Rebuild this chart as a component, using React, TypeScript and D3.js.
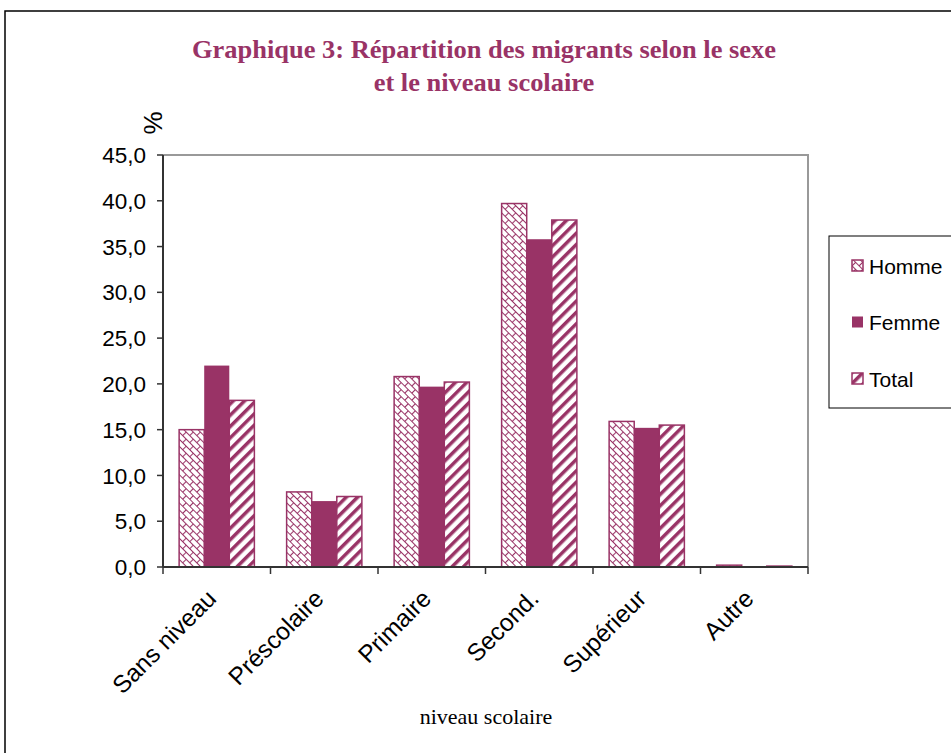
import * as d3 from "d3";
import { useEffect } from "react";

const categories = ["Sans niveau", "Préscolaire", "Primaire", "Second.", "Supérieur", "Autre"];
const seriesNames = ["Homme", "Femme", "Total"];
const homme = [15.0, 8.2, 20.8, 39.7, 15.9, 0.2];
const femme = [22.0, 7.2, 19.7, 35.8, 15.2, 0.1];
const total = [18.2, 7.7, 20.2, 37.9, 15.5, 0.1];
const yTicks = [0, 5, 10, 15, 20, 25, 30, 35, 40, 45];

const PLUM = "#993366";
const SANS = "'Liberation Sans', Arial, sans-serif";
const SERIF = "'Liberation Serif', 'Times New Roman', serif";

const fills = ["url(#pat-homme)", PLUM, "url(#pat-total)"];

export default function App() {
  useEffect(() => {
    document.body.style.margin = "0";
  }, []);

  const width = 951;
  const height = 753;
  const plot = { left: 163, top: 155, right: 808, bottom: 567 };

  const x = d3
    .scaleBand<string>()
    .domain(categories)
    .range([plot.left, plot.right])
    .paddingInner(0.3)
    .paddingOuter(0.15);
  const xs = d3.scaleBand<string>().domain(seriesNames).range([0, x.bandwidth()]);
  const y = d3.scaleLinear().domain([0, 45]).range([plot.bottom, plot.top]);

  const series = [homme, femme, total];
  const step = x.step();

  return (
    <svg width={width} height={height} style={{ display: "block" }}>
      <defs>
        <pattern
          id="pat-homme"
          width={10}
          height={10}
          patternUnits="userSpaceOnUse"
          patternTransform="rotate(45)"
        >
          <rect width={10} height={10} fill="#fff" />
          <path
            d="M0,0.5H10M0,5.5H10M0.5,0.5V5.5M5.5,5.5V10.5"
            stroke={PLUM}
            strokeWidth={1.1}
            fill="none"
          />
        </pattern>
        <pattern
          id="pat-total"
          width={8}
          height={8}
          patternUnits="userSpaceOnUse"
          patternTransform="rotate(45)"
        >
          <rect width={8} height={8} fill="#fff" />
          <rect x={0} y={0} width={3.5} height={8} fill={PLUM} />
        </pattern>
      </defs>

      {/* outer frame */}
      <rect x={5} y={11} width={960} height={760} fill="none" stroke="#000" strokeWidth={1.5} />

      {/* title */}
      <g transform="translate(484,0) scale(1.08,1)">
        <text
          x={0}
          y={58}
          textAnchor="middle"
          fill={PLUM}
          fontFamily={SERIF}
          fontWeight="bold"
          fontSize={24.5}
        >
          <tspan x={0}>Graphique 3: Répartition des migrants selon le sexe</tspan>
          <tspan x={0} dy={33}>et le niveau scolaire</tspan>
        </text>
      </g>

      {/* plot frame top/right */}
      <path
        d={`M${plot.left},${plot.top}H${plot.right}V${plot.bottom}`}
        fill="none"
        stroke="#999"
        strokeWidth={2}
      />

      {/* bars */}
      {categories.map((c, i) => (
        <g key={c} transform={`translate(${x(c)},0)`}>
          {series.map((s, j) => (
            <rect
              key={seriesNames[j]}
              x={xs(seriesNames[j])}
              y={y(s[i])}
              width={xs.bandwidth()}
              height={plot.bottom - y(s[i])}
              fill={fills[j]}
              stroke={PLUM}
              strokeWidth={j === 1 ? 0 : 1.5}
            />
          ))}
        </g>
      ))}

      {/* y axis */}
      <line x1={plot.left} x2={plot.left} y1={plot.top} y2={plot.bottom} stroke="#333" strokeWidth={2} />
      {yTicks.map((t) => (
        <g key={t}>
          <line x1={plot.left - 6} x2={plot.left} y1={y(t)} y2={y(t)} stroke="#333" strokeWidth={1.5} />
          <text
            x={plot.left - 17}
            y={y(t)}
            dy="0.36em"
            textAnchor="end"
            fontFamily={SANS}
            fontSize={22.5}
            fill="#000"
          >
            {t.toFixed(1).replace(".", ",")}
          </text>
        </g>
      ))}
      <text
        transform={`translate(162,123) rotate(-90)`}
        textAnchor="middle"
        fontFamily={SANS}
        fontSize={26}
        fill="#000"
      >
        %
      </text>

      {/* x axis */}
      <line x1={plot.left} x2={plot.right} y1={plot.bottom} y2={plot.bottom} stroke="#333" strokeWidth={2} />
      {d3.range(categories.length + 1).map((k) => {
        const tx = plot.left + k * step;
        return (
          <line key={k} x1={tx} x2={tx} y1={plot.bottom} y2={plot.bottom + 7} stroke="#333" strokeWidth={1.5} />
        );
      })}
      {categories.map((c) => {
        const cx = (x(c) ?? 0) + x.bandwidth() / 2;
        return (
          <text
            key={c}
            transform={`translate(${cx + 1},${plot.bottom + 33}) rotate(-45)`}
            textAnchor="end"
            fontFamily={SANS}
            fontSize={24.5}
            fill="#000"
          >
            {c}
          </text>
        );
      })}
      <text x={486} y={724} textAnchor="middle" fontFamily={SERIF} fontSize={22} fill="#000">
        niveau scolaire
      </text>

      {/* legend */}
      <rect x={829} y={236} width={140} height={172} fill="#fff" stroke="#000" strokeWidth={1} />
      {seriesNames.map((n, j) => {
        const ly = 266 + j * 56.5;
        return (
          <g key={n}>
            <rect
              x={852}
              y={ly - 6}
              width={11}
              height={11}
              fill={fills[j]}
              stroke={PLUM}
              strokeWidth={j === 1 ? 0 : 1.5}
            />
            <text x={869} y={ly} dy="0.36em" fontFamily={SANS} fontSize={21} fill="#000">
              {n}
            </text>
          </g>
        );
      })}
    </svg>
  );
}
